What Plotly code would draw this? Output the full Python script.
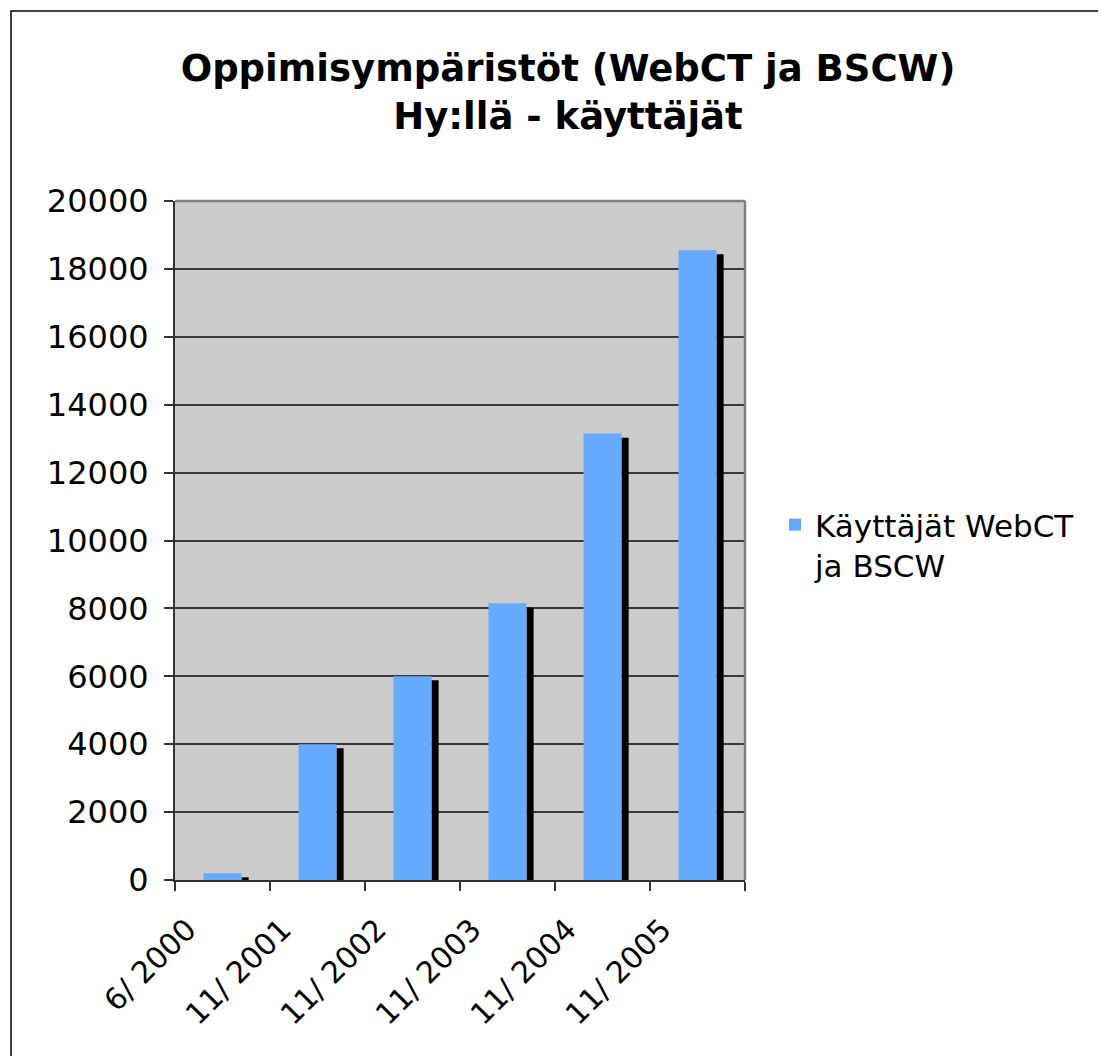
import plotly.graph_objects as go

# ---- data ----
categories = ["6/ 2000", "11/ 2001", "11/ 2002", "11/ 2003", "11/ 2004", "11/ 2005"]
users = [200, 4000, 6000, 8150, 13150, 18550]
series_name = "Käyttäjät WebCT<br>ja BSCW"
y_tick_values = [0, 2000, 4000, 6000, 8000, 10000, 12000, 14000, 16000, 18000, 20000]
title_lines = ["Oppimisympäristöt (WebCT ja BSCW)", "Hy:llä - käyttäjät"]

# ---- style ----
BLUE = "#66AAFF"
DEPTH = 120  # pseudo-3D shadow drop (data units)
FONT = "DejaVu Sans, Arial, sans-serif"
PAGE_OFF = 8  # browser body margin
W, H = 1106 - PAGE_OFF, 1056 - PAGE_OFF
# plot area in page pixels: x 175..745, y 201..880
PL, PR, PT, PB = 175, 745, 201, 880
L = PL - PAGE_OFF
T = PT - PAGE_OFF
R = W - (PR - PAGE_OFF)
B = H - (PB - PAGE_OFF)
pw, ph = PR - PL, PB - PT

def px_x(p):
    return (p - PL) / pw

def px_y(p):
    return (PB - p) / ph

shadow = [max(v - DEPTH, 0) for v in users]

fig = go.Figure()
fig.add_trace(go.Bar(
    x=categories, y=shadow, offset=0.2, width=0.075,
    marker=dict(color="black", line=dict(width=0)),
    showlegend=False, hoverinfo="skip",
))
fig.add_trace(go.Bar(
    x=categories, y=users, offset=-0.2, width=0.4, name=series_name,
    marker=dict(color=BLUE, line=dict(width=0)),
))

fig.update_layout(
    width=W, height=H,
    margin=dict(l=L, r=R, t=T, b=B, autoexpand=False),
    paper_bgcolor="white", plot_bgcolor="#CCCCCC",
    barmode="overlay",
    font=dict(family=FONT, color="black"),
    title=dict(
        text="<b>" + title_lines[0] + "</b><br><b>" + title_lines[1] + "</b>",
        x=(568 - PAGE_OFF) / W, xanchor="center", xref="container",
        y=1 - 73 / H, yanchor="top", yref="container",
        font=dict(size=37, family=FONT, color="black"),
    ),
    showlegend=True,
    legend=dict(
        x=px_x(775), y=px_y(545), xanchor="left", yanchor="middle",
        font=dict(size=31, family=FONT, color="black"),
        valign="top", bgcolor="rgba(0,0,0,0)",
    ),
    xaxis=dict(
        type="category", range=[-0.5, 5.5],
        tickson="boundaries", ticks="outside", ticklen=9, tickwidth=1.5, tickcolor="#333",
        tickangle=-45, tickfont=dict(size=30, family=FONT, color="black"),
        ticklabelshift=-35, ticklabelstandoff=18,
        showline=True, linecolor="#333", linewidth=2,
        showgrid=False, zeroline=False,
    ),
    yaxis=dict(
        range=[0, 20000], tickvals=y_tick_values, tickformat="d",
        ticks="outside", ticklen=9, tickwidth=1.5, tickcolor="#333",
        tickfont=dict(size=32, family=FONT, color="black"),
        ticklabelstandoff=9,
        showline=True, linecolor="#333", linewidth=2,
        showgrid=True, gridcolor="#3a3a3a", gridwidth=1.5,
        zeroline=False,
    ),
    shapes=[
        dict(type="line", xref="paper", yref="paper", x0=0, x1=1, y0=1, y1=1,
             line=dict(color="#808080", width=2.5)),
        dict(type="line", xref="paper", yref="paper", x0=1, x1=1, y0=0, y1=1,
             line=dict(color="#808080", width=2.5)),
        dict(type="rect", xref="paper", yref="paper",
             x0=px_x(11), x1=px_x(1106 + 20), y0=px_y(1056 + 20), y1=px_y(11),
             line=dict(color="black", width=1.5), layer="below"),
    ],
)

fig.write_html("out.html")
